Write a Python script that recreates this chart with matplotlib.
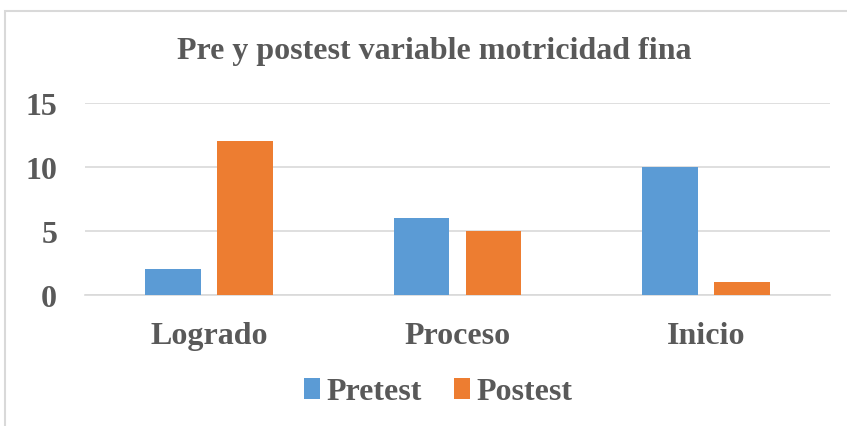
import matplotlib.pyplot as plt
import numpy as np
from matplotlib.patches import Rectangle

categories = ['Logrado', 'Proceso', 'Inicio']
pretest = [2, 6, 10]
postest = [12, 5, 1]
yticks = [0, 5, 10, 15]

text_color = '#595959'
plt.rcParams['font.family'] = 'Liberation Serif'
plt.rcParams['font.weight'] = 'bold'

fig = plt.figure(figsize=(8.47, 4.27), dpi=100)
# chart frame (cropped on right and bottom)
fig.patches.append(Rectangle((5 / 847, -0.1), 1.2, 1 - 12 / 427 + 0.1,
                             transform=fig.transFigure, fill=False,
                             edgecolor='#D9D9D9', lw=1.5))

ax = fig.add_axes([85 / 847, 1 - 296 / 427, (830 - 85) / 847, (296 - 104) / 427])
x = np.arange(len(categories))
w = 0.225
gap = 0.065
ax.bar(x - (w + gap) / 2, pretest, w, color='#5B9BD5', label='Pretest', zorder=3)
ax.bar(x + (w + gap) / 2, postest, w, color='#ED7D31', label='Postest', zorder=3)

ax.set_xlim(-0.5, 2.5)
ax.set_ylim(0, 15)
ax.set_yticks(yticks)
ax.set_xticks(x)
ax.set_xticklabels(categories)
ax.yaxis.grid(True, color='#D9D9D9', lw=1.2, zorder=0)
for s in ['top', 'right', 'left']:
    ax.spines[s].set_visible(False)
ax.spines['bottom'].set_color('#D9D9D9')
ax.spines['bottom'].set_linewidth(1.2)
ax.tick_params(axis='both', length=0, labelsize=23, colors=text_color)
ax.tick_params(axis='x', pad=19)
ax.tick_params(axis='y', pad=20)

fig.text(434 / 847, 1 - 52 / 427, 'Pre y postest variable motricidad fina',
         ha='center', va='center', fontsize=23, color=text_color, fontweight='bold')

leg = fig.legend(loc='center', bbox_to_anchor=(438 / 847, 1 - 393 / 427), ncol=2,
                 frameon=False, fontsize=23, handlelength=0.5, handleheight=0.65,
                 handletextpad=0.2, columnspacing=1.0)
for t in leg.get_texts():
    t.set_color(text_color)

fig.savefig('out.png', dpi=100)
